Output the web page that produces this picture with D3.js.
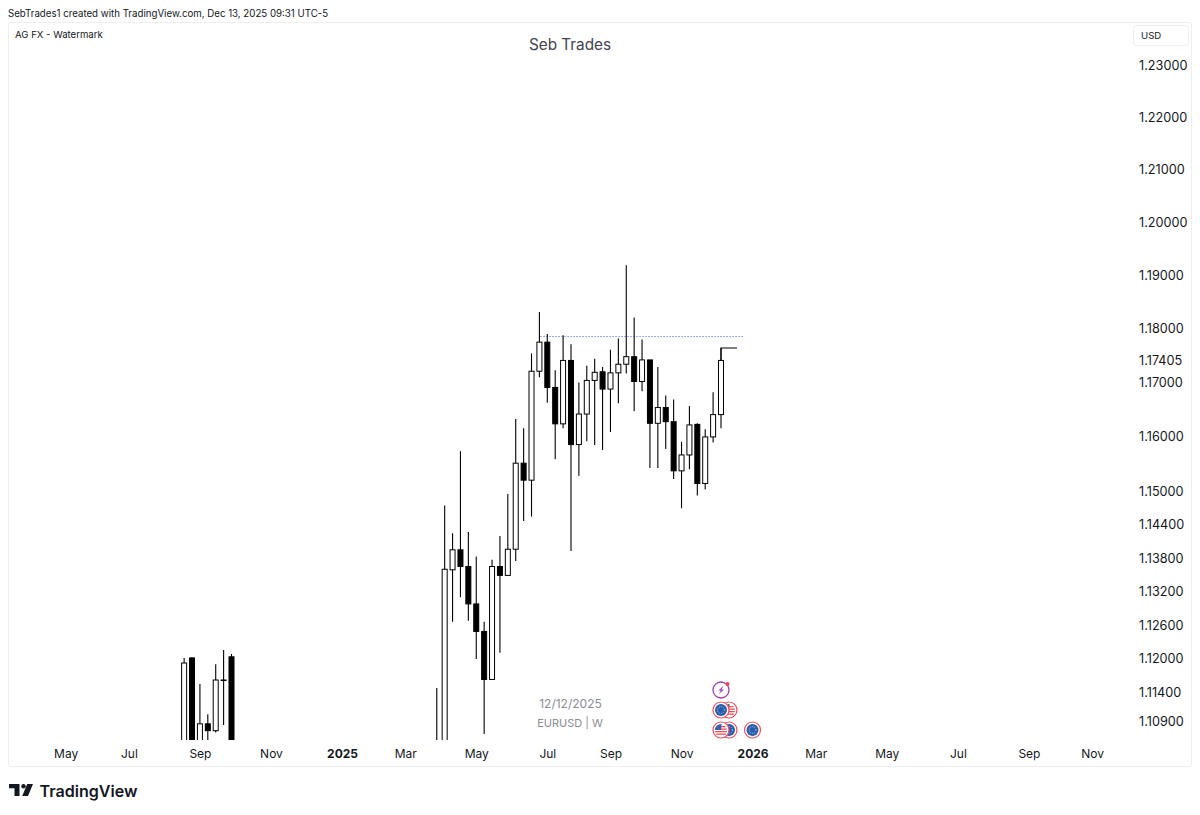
<!DOCTYPE html>
<html>
<head>
<meta charset="utf-8">
<script src="https://cdn.jsdelivr.net/npm/d3@7"></script>
<style>
html,body{margin:0;padding:0;background:#fff;}
svg{display:block;font-family:Inter,"Liberation Sans",sans-serif;}
</style>
</head>
<body>
<svg id="chart" width="1200" height="815"></svg>
<script>
// Weekly EURUSD candles (bodies below the visible pane are estimates)
const dates = ["2024-08-19","2024-08-26","2024-09-02","2024-09-09","2024-09-16","2024-09-23","2024-09-30",
"2025-03-31","2025-04-07","2025-04-14","2025-04-21","2025-04-28","2025-05-05","2025-05-12","2025-05-19","2025-05-26",
"2025-06-02","2025-06-09","2025-06-16","2025-06-23","2025-06-30","2025-07-07","2025-07-14","2025-07-21","2025-07-28",
"2025-08-04","2025-08-11","2025-08-18","2025-08-25","2025-09-01","2025-09-08","2025-09-15","2025-09-22","2025-09-29",
"2025-10-06","2025-10-13","2025-10-20","2025-10-27","2025-11-03","2025-11-10","2025-11-17","2025-11-24","2025-12-01","2025-12-08"];
const opens = [1.1026,1.1201,1.1048,1.1085,1.1073,1.1162,1.1203,
1.0820,1.0960,1.1358,1.1394,1.1364,1.1297,1.1248,1.1163,1.1364,
1.1348,1.1395,1.1551,1.1520,1.1720,1.1774,1.1690,1.1623,1.1740,
1.1585,1.1641,1.1703,1.1719,1.1687,1.1717,1.1733,1.1747,1.1701,
1.1741,1.1624,1.1653,1.1627,1.1537,1.1566,1.1622,1.1514,1.1599,1.1640];
const closes = [1.1192,1.1048,1.1085,1.1073,1.1162,1.1162,1.0970,
1.0960,1.1359,1.1394,1.1364,1.1297,1.1248,1.1163,1.1364,1.1348,
1.1395,1.1551,1.1520,1.1720,1.1774,1.1690,1.1623,1.1740,1.1585,
1.1641,1.1703,1.1718,1.1687,1.1717,1.1733,1.1747,1.1701,1.1741,
1.1624,1.1653,1.1627,1.1537,1.1566,1.1621,1.1514,1.1599,1.1640,1.1740];
const highs = [1.1201,1.1202,1.1155,1.1102,1.1190,1.1215,1.1208,
1.1148,1.1474,1.1424,1.1573,1.1426,1.1382,1.1265,1.1376,1.1419,
1.1495,1.1632,1.1615,1.1753,1.1830,1.1789,1.1722,1.1787,1.1770,
1.1699,1.1730,1.1743,1.1728,1.1760,1.1781,1.1918,1.1820,1.1779,
1.1741,1.1728,1.1675,1.1668,1.1590,1.1656,1.1624,1.1613,1.1681,1.1763];
const lows = [1.1020,1.1040,1.1026,1.1002,1.1070,1.1083,1.0950,
1.0780,1.0880,1.1265,1.1309,1.1267,1.1199,1.1067,1.1163,1.1210,
1.1348,1.1374,1.1446,1.1454,1.1709,1.1662,1.1558,1.1615,1.1392,
1.1528,1.1591,1.1584,1.1575,1.1608,1.1661,1.1716,1.1646,1.1683,
1.1542,1.1542,1.1577,1.1522,1.1469,1.1540,1.1492,1.1503,1.1589,1.1615];

const priceTicks = [1.23,1.22,1.21,1.20,1.19,1.18,1.17405,1.17,1.16,1.15,1.144,1.138,1.132,1.126,1.12,1.114,1.109];
const timeTickDates = ["2024-05-06","2024-07-01","2024-09-02","2024-11-04","2025-01-06","2025-03-03","2025-05-05","2025-07-07","2025-09-01","2025-11-03","2026-01-05","2026-03-02","2026-05-04","2026-07-06","2026-09-07","2026-11-02"];
const timeTickLabels = ["May","Jul","Sep","Nov","2025","Mar","May","Jul","Sep","Nov","2026","Mar","May","Jul","Sep","Nov"];
const levelPrice = 1.1786;
const lastPrice = 1.1763;

const parse = d3.utcParse("%Y-%m-%d");
const svg = d3.select("#chart");
const ink = "#131722";

const x = d3.scaleUtc().domain([parse("2024-05-06"),parse("2025-12-08")]).range([65.7,721]);
const y = d3.scaleLog().domain([1.23,1.12]).range([65.5,658.5]);

// frame
svg.append("rect").attr("x",8.5).attr("y",22.5).attr("width",1183).attr("height",744)
  .attr("fill","#fff").attr("stroke","#efeff1").attr("rx",2);

svg.append("defs").append("clipPath").attr("id","pane").append("rect")
  .attr("x",9).attr("y",23).attr("width",1120).attr("height",717);

const candles = dates.map((d,i)=>({t:parse(d),o:opens[i],c:closes[i],h:highs[i],l:lows[i]}));
const pane = svg.append("g").attr("clip-path","url(#pane)");

// horizontal dotted level
pane.append("line")
  .attr("x1",x(parse("2025-07-01"))).attr("x2",744)
  .attr("y1",Math.round(y(levelPrice))+0.5).attr("y2",Math.round(y(levelPrice))+0.5)
  .attr("stroke","#3a63d6").attr("stroke-width",1).attr("stroke-dasharray","1 2");

const g = pane.selectAll("g.c").data(candles).join("g").attr("class","c");
g.append("line")
  .attr("x1",d=>x(d.t)).attr("x2",d=>x(d.t))
  .attr("y1",d=>y(d.h)).attr("y2",d=>y(d.l))
  .attr("stroke","#000").attr("stroke-width",1.1);
g.append("rect")
  .attr("x",d=>x(d.t)-2.5).attr("width",5)
  .attr("y",d=>y(Math.max(d.o,d.c)))
  .attr("height",d=>Math.max(0.5,y(Math.min(d.o,d.c))-y(Math.max(d.o,d.c))))
  .attr("fill",d=>d.c>=d.o?"#fff":"#000")
  .attr("stroke","#000").attr("stroke-width",1);

// last-price step line
const lastDate = parse(dates[dates.length-1]);
pane.append("path")
  .attr("d",d3.line()([[x(lastDate),y(closes[closes.length-1])],[x(lastDate),y(lastPrice)],[x(lastDate)+16,y(lastPrice)]]))
  .attr("fill","none").attr("stroke","#000").attr("stroke-width",1.1);

// price axis
const yAxis = svg.append("g").attr("transform","translate(1139,0.4)")
  .call(d3.axisRight(y).tickValues(priceTicks).tickSize(0).tickPadding(0).tickFormat(d3.format(".5f")));
yAxis.select(".domain").remove();
yAxis.selectAll("text").attr("font-size",12.7).attr("fill",ink).attr("font-family","Inter");

// time axis
const tickParsed = timeTickDates.map(parse);
const xAxis = svg.append("g").attr("transform","translate(0,743)")
  .call(d3.axisBottom(x).tickValues(tickParsed).tickSize(0).tickPadding(6)
    .tickFormat((d,i)=>timeTickLabels[i]));
xAxis.select(".domain").remove();
xAxis.selectAll("text").attr("font-size",12).attr("fill",ink).attr("font-family","Inter")
  .attr("font-weight",(d,i)=>/^20/.test(timeTickLabels[i])?700:400);

// header text
svg.append("text").attr("x",8).attr("y",16.5).attr("font-size",9.7).attr("fill",ink)
  .text("SebTrades1 created with TradingView.com, Dec 13, 2025 09:31 UTC-5");
svg.append("text").attr("x",15).attr("y",38).attr("font-size",9.6).attr("fill",ink).text("AG FX - Watermark");
svg.append("text").attr("x",570).attr("y",49.5).attr("text-anchor","middle").attr("font-size",15.3).attr("fill","#3f4350").text("Seb Trades");

// currency button
svg.append("rect").attr("x",1133.5).attr("y",25.5).attr("width",55).attr("height",20).attr("rx",3)
  .attr("fill","#fff").attr("stroke","#eeeeF0");
svg.append("text").attr("x",1141).attr("y",39).attr("font-size",9.6).attr("fill",ink).text("USD");

// pane annotations
svg.append("text").attr("x",570.5).attr("y",708).attr("text-anchor","middle").attr("font-size",12).attr("fill","#8a8d94").text("12/12/2025");
svg.append("text").attr("x",570).attr("y",727).attr("text-anchor","middle").attr("font-size",11).attr("fill","#8a8d94").text("EURUSD | W");

// event icons
function eu(gr,cx,cy){
  gr.append("circle").attr("cx",cx).attr("cy",cy).attr("r",8).attr("fill","#fff").attr("stroke","#ef4d5c").attr("stroke-width",1.2);
  gr.append("circle").attr("cx",cx).attr("cy",cy).attr("r",6).attr("fill","#2a5caa");
  gr.append("circle").attr("cx",cx).attr("cy",cy).attr("r",3.4).attr("fill","none").attr("stroke","#c9d6ee").attr("stroke-width",0.9).attr("stroke-dasharray","1 1.2");
}
function us(gr,cx,cy){
  gr.append("circle").attr("cx",cx).attr("cy",cy).attr("r",8).attr("fill","#fff").attr("stroke","#ef4d5c").attr("stroke-width",1.2);
  [-4,-1.5,1,3.5].forEach(o=>{
    const w=Math.sqrt(Math.max(0,36-o*o));
    gr.append("rect").attr("x",cx-w).attr("y",cy+o).attr("width",2*w).attr("height",1.3).attr("fill","#e8505b");
  });
  gr.append("path").attr("d",d3.arc()({innerRadius:0,outerRadius:6,startAngle:-Math.PI/2,endAngle:0.1})).attr("transform",`translate(${cx},${cy})`).attr("fill","#3f5fa8");
}
const icons = svg.append("g");
const ix = 721;
icons.append("circle").attr("cx",ix).attr("cy",690).attr("r",8).attr("fill","#fff").attr("stroke","#9c3fb5").attr("stroke-width",1.3);
icons.append("path").attr("d",`M${ix+2.5} ${685.5}L${ix-2.5} ${690.5}H${ix}L${ix-2.5} ${694.5}L${ix+3} ${689.5}H${ix+0.5}Z`).attr("fill","#9c3fb5");
icons.append("circle").attr("cx",ix+6.5).attr("cy",684).attr("r",2).attr("fill","#ef3f55");
us(icons,729,710); eu(icons,721,710);
eu(icons,729,730); us(icons,721,730);
eu(icons,752.5,730);

// TradingView logo
const logo = svg.append("g").attr("transform","translate(9,784)").attr("fill","#131722");
logo.append("path").attr("d","M0 0H10.5V12H5.5V4.2H0Z");
logo.append("circle").attr("cx",14.5).attr("cy",2.2).attr("r",2.2);
logo.append("path").attr("d","M18.2 0H24L19 12H13.2Z");
svg.append("text").attr("x",39.5).attr("y",796.5).attr("font-size",16.1).attr("font-weight",600).attr("fill","#131722").text("TradingView");
</script>
</body>
</html>
